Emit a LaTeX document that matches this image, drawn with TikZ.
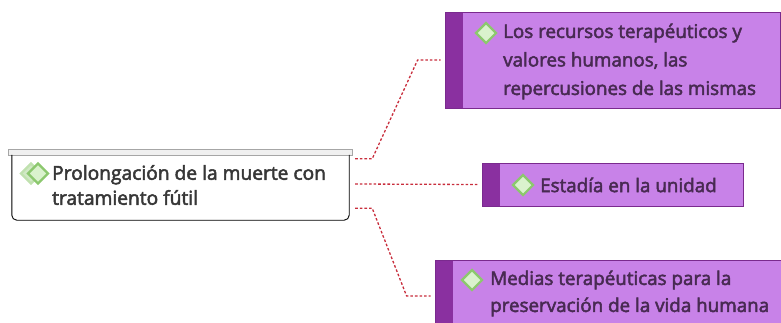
\documentclass[tikz,border=0pt]{standalone}
\usepackage{fontspec}
\setmainfont{Open Sans}
\newfontfamily\semib{Open Sans}[FakeBold=2.6]
\usepackage{xcolor}
\usetikzlibrary{shapes.geometric}

\definecolor{leaffill}{RGB}{200,130,232}
\definecolor{leafstrip}{RGB}{138,48,160}
\definecolor{leafline}{RGB}{122,42,142}
\definecolor{leaftext}{RGB}{72,42,82}
\definecolor{roottext}{RGB}{55,55,55}
\definecolor{linkred}{RGB}{200,45,60}
\definecolor{gemfill}{RGB}{218,242,205}
\definecolor{gemline}{RGB}{140,200,110}

\begin{document}
\begin{tikzpicture}[x=1pt,y=1pt,
    leaf/.style={draw=leafline,line width=0.8pt,fill=leaffill,inner sep=0pt,
      path picture={\fill[leafstrip] (path picture bounding box.north west)
        rectangle ([xshift=18pt]path picture bounding box.south west);}},
    gem/.style={diamond,draw=gemline,fill=gemfill,line width=2.2pt,
      minimum width=21pt,minimum height=21pt,inner sep=0pt},
    txt/.style={anchor=west,align=left,inner sep=0pt},
    link/.style={linkred,line width=1.3pt,dash pattern=on 2.6pt off 2pt}]
    \useasboundingbox (0,0) rectangle (781,-322);

    % Root
    \node[draw=gray!70,fill=gray!12,line width=0.8pt,minimum width=344pt,
      minimum height=6pt,inner sep=0pt] (bar) at (180,-152) {};
    \node[minimum width=337pt,minimum height=65pt,inner sep=0pt] (root) at (180.5,-187.5) {};
    \draw[line width=0.9pt,rounded corners=5pt] (root.north west) -- (root.south west)
      -- (root.south east) -- (root.north east);
    \node[gem,draw=gemline!55,fill=gemline!40] (rootgemb) at (31,-173.5) {};
    \node[gem] (rootgem) at (38,-173.5) {};
    \node[txt,text=roottext,font=\semib\fontsize{19.2}{25}\selectfont] (roottxt) at (52,-185)
      {Prolongación de la muerte con\\tratamiento fútil};

    % Leaves
    \node[leaf,minimum width=335pt,minimum height=96pt] (recursos) at (612.5,-60) {};
    \node[leaf,minimum width=261pt,minimum height=43pt] (estadia) at (612.5,-184.5) {};
    \node[leaf,minimum width=360pt,minimum height=72pt] (medias) at (615,-296) {};

    \node[gem] (gem1) at (486,-33) {};
    \node[gem] (gem2) at (523,-185) {};
    \node[gem] (gem3) at (472,-280) {};

    \node[txt,text=leaftext,font=\semib\fontsize{18.8}{28.5}\selectfont] (txt1) at (503,-61.5)
      {Los recursos terapéuticos y\\valores humanos, las\\repercusiones de las mismas};
    \node[txt,text=leaftext,font=\semib\fontsize{18.8}{28}\selectfont] (txt2) at (540,-185)
      {Estadía en la unidad};
    \node[txt,text=leaftext,font=\semib\fontsize{18.8}{27}\selectfont] (txt3) at (490,-293.5)
      {Medias terapéuticas para la\\preservación de la vida humana};

    % Links
    \draw[link] ([xshift=6pt,yshift=-4pt]root.north east) -- ++(17,0)
      -- ([xshift=-27pt]recursos.west) -- ([xshift=-4pt]recursos.west);
    \draw[link] ([xshift=6pt,yshift=3.5pt]root.east) -- ([xshift=-4pt]estadia.west);
    \draw[link] ([xshift=6pt,yshift=12pt]root.south east) -- ++(17,0)
      -- ([xshift=-28pt]medias.west) -- ([xshift=-4pt]medias.west);
\end{tikzpicture}
\end{document}
